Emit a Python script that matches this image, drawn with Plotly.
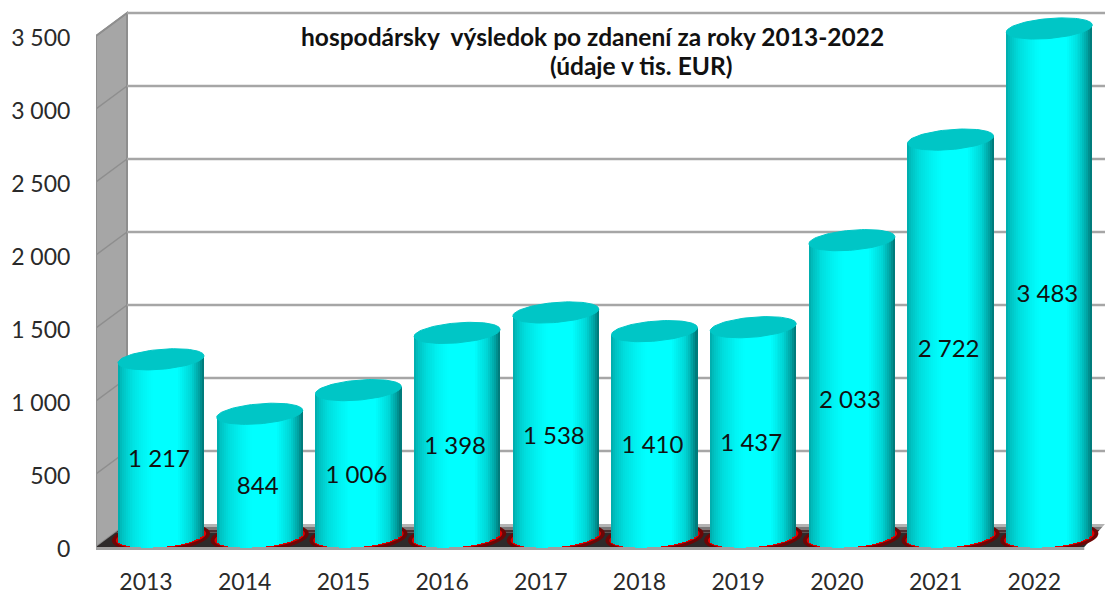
import numpy as np
import plotly.graph_objects as go

years = ["2013","2014","2015","2016","2017","2018","2019","2020","2021","2022"]
values = [1217,844,1006,1398,1538,1410,1437,2033,2722,3483]
value_labels = ["1 217","844","1 006","1 398","1 538","1 410","1 437","2 033","2 722","3 483"]
y_ticks = [0,500,1000,1500,2000,2500,3000,3500]
y_tick_labels = ["0","500","1 000","1 500","2 000","2 500","3 000","3 500"]
title_line1 = "hospodársky  výsledok po zdanení za roky 2013-2022"
title_line2 = "(údaje v tis. EUR)"

W,H = 1105,594
PX_X = 98.7      # px per category
PX_Y = 0.146     # px per unit
X_LEFT = -0.5066
X_RIGHT = X_LEFT + (W-96)/PX_X
Y_TOP = 547/PX_Y
Y_BOT = -4/PX_Y
DX = 31/PX_X     # wall depth
DY = 23/PX_Y
BAR_OFF = 15/PX_X
BASE = 10/PX_Y
A = 43/PX_X      # cylinder half width
B = 10/PX_Y
T = 3.5/PX_Y

stops_u = [-1,-0.9,-0.7,-0.4,-0.2,0.4,0.7,0.88,1]
stops_g = [170,195,222,245,255,255,215,165,115]
N = 44
us = (np.arange(N)+0.5)/N*2-1
sw = 2*A/N

fig = go.Figure()
idx = np.arange(len(values))
vals = np.array(values,float)
for u in us:
    g = int(np.interp(u,stops_u,stops_g))
    lower = BASE - B*np.sqrt(1-u*u) + T*u
    top = vals + BASE + T*u
    fig.add_trace(go.Bar(x=idx+BAR_OFF+u*A, y=top-lower, base=lower, width=sw*1.15,
                         marker=dict(color=f"rgb(0,{g},{g})",line_width=0),
                         hoverinfo="skip",showlegend=False))

t = np.linspace(0,2*np.pi,90)
for i,v in enumerate(values):
    ex = i+BAR_OFF+A*np.cos(t)
    ey = v+BASE+T*np.cos(t)+B*np.sin(t)
    fig.add_trace(go.Scatter(x=ex,y=ey,mode="lines",fill="toself",fillcolor="#00C6C6",
                             line=dict(color="#00C6C6",width=1),hoverinfo="skip",showlegend=False))

fig.add_trace(go.Scatter(x=idx+BAR_OFF-0.02,y=vals/2-3/PX_Y,mode="text",text=value_labels,
                         textfont=dict(family="Lato",size=24,color="#111111"),
                         hoverinfo="skip",showlegend=False))

shapes=[]
def poly(pts,fill,line=None,w=0):
    path="M"+" L".join(f"{x:.4f},{y:.2f}" for x,y in pts)+" Z"
    return dict(type="path",path=path,xref="x",yref="y",fillcolor=fill,layer="below",
                line=dict(color=line or fill,width=w))
x0=X_LEFT
# side wall
shapes.append(poly([(x0,0),(x0+DX,DY),(x0+DX,y_ticks[-1]+DY),(x0,y_ticks[-1])],"#A6A6A6","#8E8E8E",2))
# floor strips, back to front
fr = X_RIGHT-0.21
def floor_x(fy):  # left and right floor edge at height fy
    k=fy/DY
    return x0+DX*k, fr+(X_RIGHT-fr)*k
strips=[(1.0,0.88,"#B4B4B4"),(0.88,0.76,"#787878"),(0.76,0.62,"#4A3030"),(0.62,0.0,"#2E2A2A")]
for a,b,c in strips:
    la,ra=floor_x(a*DY); lb,rb=floor_x(b*DY)
    shapes.append(poly([(lb,b*DY),(la,a*DY),(ra,a*DY),(rb,b*DY)],c))
for i in range(len(values)):
    cx=i+BAR_OFF
    for sa,sb,col in [(1.14,1.45,"#6E0606"),(1.05,1.12,"#E00000")]:
        pts=[(cx+sa*A*np.cos(a),BASE+T*np.cos(a)+sb*B*np.sin(a)) for a in t]
        pts=[(x,max(y,0)) for x,y in pts]
        shapes.append(poly(pts,col))
# floor rim
shapes.append(dict(type="line",xref="x",yref="y",x0=x0,x1=fr,y0=-1.5/PX_Y,y1=-1.5/PX_Y,layer="below",
                   line=dict(color="#A0A0A0",width=3)))
# gridlines
for v in y_ticks:
    if v>0:
        shapes.append(dict(type="line",xref="x",yref="y",x0=x0,x1=x0+DX,y0=v,y1=v+DY,layer="below",
                           line=dict(color="#8E8E8E",width=1.5)))
        shapes.append(dict(type="line",xref="x",yref="y",x0=x0+DX,x1=X_RIGHT,y0=v+DY,y1=v+DY,layer="below",
                           line=dict(color="#A6A6A6",width=2.5)))
shapes.append(dict(type="line",xref="x",yref="y",x0=x0,x1=x0,y0=0,y1=y_ticks[-1],layer="below",
                   line=dict(color="#8E8E8E",width=2)))

def ann(x,y,s):
    return dict(x=x,y=y,xref="paper",yref="paper",xanchor="center",yanchor="middle",text=f"<b>{s}</b>",
                showarrow=False,font=dict(family="Lato",size=24.5,color="#111111"))
ph = 551
annotations=[ann((592-96)/(W-96),(ph-36)/ph,title_line1),ann((641-96)/(W-96),(ph-66)/ph,title_line2)]

fig.update_layout(width=W,height=H,autosize=False,barmode="overlay",bargap=0,showlegend=False,
    margin=dict(l=96,r=0,t=0,b=43),paper_bgcolor="white",plot_bgcolor="white",
    shapes=shapes,annotations=annotations,
    xaxis=dict(range=[X_LEFT,X_RIGHT],tickmode="array",tickvals=list(idx),ticktext=years,showgrid=False,
               zeroline=False,showline=False,ticks="outside",ticklen=10,tickcolor="rgba(0,0,0,0)",automargin=False,
               tickfont=dict(family="Lato",size=23,color="#2A2A2A")),
    yaxis=dict(range=[Y_BOT,Y_TOP],tickmode="array",tickvals=y_ticks,ticktext=y_tick_labels,showgrid=False,
               zeroline=False,showline=False,ticks="outside",ticklen=20,tickcolor="rgba(0,0,0,0)",automargin=False,
               ticklabelshift=2,
               tickfont=dict(family="Lato",size=23,color="#2A2A2A")))
fig.write_html("out.html",config=dict(displayModeBar=False),
               post_script="document.body.style.margin='0';document.body.style.overflow='hidden';")
